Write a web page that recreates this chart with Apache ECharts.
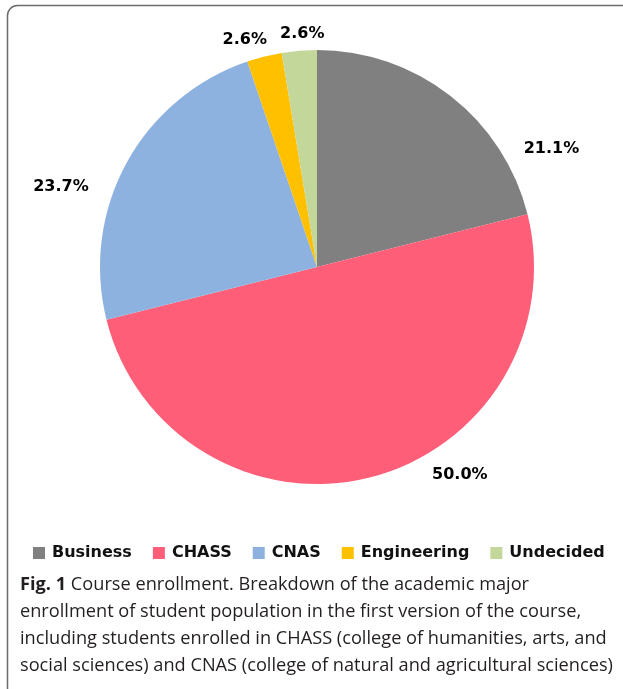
<!DOCTYPE html>
<html>
<head>
<meta charset="utf-8">
<script src="https://cdn.jsdelivr.net/npm/echarts@6/dist/echarts.min.js"></script>
<style>
html,body{margin:0;padding:0;background:#fff;}
#chart{width:623px;height:689px;}
</style>
</head>
<body>
<div id="chart"></div>
<script>
const categories = ['Business', 'CHASS', 'CNAS', 'Engineering', 'Undecided'];
const values = [21.1, 50.0, 23.7, 2.6, 2.6];
const colors = ['#808080', '#FF5E79', '#8EB2E0', '#FFC000', '#C4D79B'];
const captionLines = [
  'Course enrollment. Breakdown of the academic major',
  'enrollment of student population in the first version of the course,',
  'including students enrolled in CHASS (college of humanities, arts, and',
  'social sciences) and CNAS (college of natural and agricultural sciences)'
];

// label nudges (styling, relative to library-computed outside position)
const labelNudge = [[62, 61], [55, -12], [-24, 29], [10, -7], [31, -7]];

const chart = echarts.init(document.getElementById('chart'), null, {renderer: 'canvas'});
const option = {
  animation: false,
  backgroundColor: '#fff',
  title: {
    left: 20,
    top: 571,
    padding: 0,
    text: '{b|Fig. 1} ' + captionLines.join('\n'),
    textStyle: {
      fontFamily: 'Open Sans',
      fontSize: 18.2,
      fontWeight: 'normal',
      color: '#231f20',
      lineHeight: 27,
      rich: {
        b: {fontFamily: 'Open Sans', fontSize: 18.2, fontWeight: 'bold', color: '#231f20', lineHeight: 27}
      }
    }
  },
  graphic: [{
    type: 'rect',
    silent: true,
    shape: {x: 7.5, y: 5.5, width: 700, height: 800, r: 10},
    style: {fill: 'none', stroke: '#6b6b6b', lineWidth: 1.5}
  }],
  legend: {
    data: categories,
    left: 33,
    top: 545,
    padding: 0,
    itemWidth: 12,
    itemHeight: 12,
    itemGap: 21,
    icon: 'rect',
    textStyle: {
      fontFamily: 'DejaVu Sans',
      fontWeight: 'bold',
      fontSize: 16,
      color: '#111',
      padding: [0, 0, 0, 2]
    }
  },
  series: [{
    type: 'pie',
    center: [317, 267],
    radius: 217,
    startAngle: 90,
    clockwise: true,
    avoidLabelOverlap: false,
    label: {
      show: true,
      position: 'outside',
      fontFamily: 'DejaVu Sans',
      fontWeight: 'bold',
      fontSize: 16,
      color: '#000',
      formatter: p => p.value.toFixed(1) + '%'
    },
    labelLine: {show: false, length: 10, length2: 0},
    emphasis: {disabled: true},
    data: categories.map((c, i) => ({
      name: c,
      value: values[i],
      itemStyle: {color: colors[i]},
      label: {offset: labelNudge[i]}
    }))
  }]
};
chart.setOption(option);
</script>
</body>
</html>
